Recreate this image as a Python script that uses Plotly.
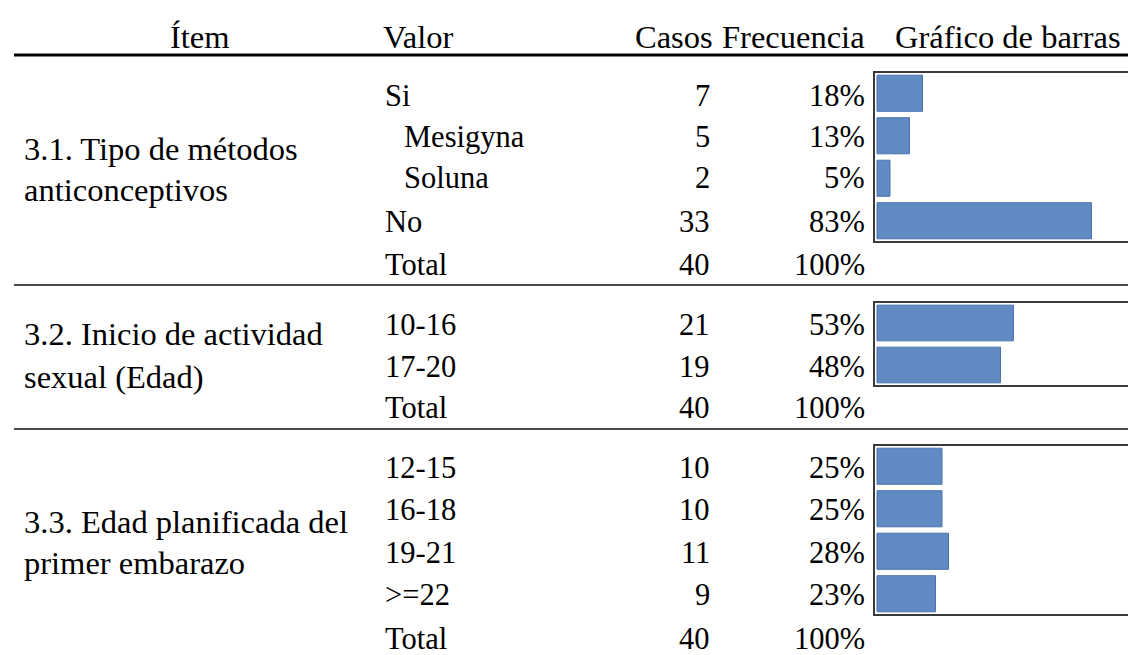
import plotly.graph_objects as go

# ---------------- data ----------------
headers = ["Ítem", "Valor", "Casos", "Frecuencia", "Gráfico de barras"]

item1_lines = ["3.1. Tipo de métodos", "anticonceptivos"]
item2_lines = ["3.2. Inicio de actividad", "sexual (Edad)"]
item3_lines = ["3.3. Edad planificada del", "primer embarazo"]

sec1_values = ["Si", "Mesigyna", "Soluna", "No"]
sec1_cases = [7, 5, 2, 33]
sec1_sub = ["Mesigyna", "Soluna"]          # indented sub-options of "Si"
sec1_total = 40

sec2_values = ["10-16", "17-20"]
sec2_cases = [21, 19]
sec2_total = 40

sec3_values = ["12-15", "16-18", "19-21", ">=22"]
sec3_cases = [10, 10, 11, 9]
sec3_total = 40

total_label = "Total"

# ---------------- layout constants (pixels) ----------------
W, H = 1128, 655
FONT = "Liberation Serif, Times New Roman, serif"
BODY = 30.5
HEAD = 32.5


def px(x):
    return x / W


def py(y):
    return 1 - y / H


def pct(n, tot):
    return f"{int(n * 100 / tot + 0.5)}%"


annotations = []


def txt(s, x, y, anchor="left", size=BODY):
    annotations.append(dict(text=s, x=px(x), y=py(y), xref="paper", yref="paper",
                            xanchor=anchor, yanchor="middle", showarrow=False,
                            font=dict(family=FONT, size=size, color="#000000")))


# header
txt(headers[0], 200, 37, "center", HEAD)
txt(headers[1], 381, 37, "left", HEAD)
txt(headers[2], 633, 37, "left", HEAD)
txt(headers[3], 867, 37, "right", HEAD)
txt(headers[4], 893, 37, "left", HEAD)

X_VAL, X_SUB, X_CAS, X_FRE, X_ITEM = 383, 402, 712, 867, 22

sections = [
    dict(item=item1_lines, item_y=(149, 190), values=sec1_values, cases=sec1_cases,
         total=sec1_total, rows=[96, 137, 178, 222], total_y=265, box=(72, 242)),
    dict(item=item2_lines, item_y=(334, 377), values=sec2_values, cases=sec2_cases,
         total=sec2_total, rows=[325, 367], total_y=408, box=(302, 386)),
    dict(item=item3_lines, item_y=(522, 563), values=sec3_values, cases=sec3_cases,
         total=sec3_total, rows=[468, 510, 553, 595], total_y=639, box=(445, 615)),
]

fig = go.Figure()
shapes = []
layout_axes = {}

BOX_L = 874
ZERO_X = 877
SCALE = 260.0  # pixels per 100%

for i, s in enumerate(sections):
    # item text
    txt(s["item"][0], X_ITEM, s["item_y"][0], "left", HEAD)
    txt(s["item"][1], X_ITEM, s["item_y"][1], "left", HEAD)
    # rows
    for v, c, y in zip(s["values"], s["cases"], s["rows"]):
        xv = X_SUB if (i == 0 and v in sec1_sub) else X_VAL
        txt(v, xv, y, "left")
        txt(str(c), X_CAS, y, "right")
        txt(pct(c, s["total"]), X_FRE, y, "right")
    txt(total_label, X_VAL, s["total_y"], "left")
    txt(str(s["total"]), X_CAS, s["total_y"], "right")
    txt(pct(s["total"], s["total"]), X_FRE, s["total_y"], "right")

    # bar chart
    n = i + 1
    xa = "x" if n == 1 else f"x{n}"
    ya = "y" if n == 1 else f"y{n}"
    fig.add_trace(go.Bar(
        x=[c / s["total"] for c in s["cases"]], y=s["values"], orientation="h",
        xaxis=xa, yaxis=ya,
        marker=dict(color="#5F8AC4", line=dict(color="#4A74AE", width=1)),
        hoverinfo="skip", showlegend=False,
    ))
    top, bot = s["box"]
    layout_axes[f"xaxis{'' if n == 1 else n}"] = dict(
        domain=[px(BOX_L), 1],
        range=[(BOX_L - ZERO_X) / SCALE, (W - ZERO_X) / SCALE],
        showgrid=False, zeroline=False, showticklabels=False, ticks="",
        anchor=ya, fixedrange=True)
    layout_axes[f"yaxis{'' if n == 1 else n}"] = dict(
        domain=[py(bot), py(top)], type="category",
        range=[len(s["values"]) - 0.5, -0.5],
        showgrid=False, zeroline=False, showticklabels=False, ticks="",
        anchor=xa, fixedrange=True)
    # box around bar area (right edge runs off the page)
    shapes.append(dict(type="rect", xref="paper", yref="paper",
                       x0=px(BOX_L), x1=1.02, y0=py(bot), y1=py(top),
                       line=dict(color="#3A3A3A", width=2), fillcolor="rgba(0,0,0,0)",
                       layer="above"))

# rules
shapes.append(dict(type="line", xref="paper", yref="paper", x0=px(14), x1=1,
                   y0=py(55), y1=py(55), line=dict(color="#000000", width=3)))
for yy in (285, 429):
    shapes.append(dict(type="line", xref="paper", yref="paper", x0=px(14), x1=1,
                       y0=py(yy), y1=py(yy), line=dict(color="#4A4A4A", width=2)))

fig.update_layout(
    width=W, height=H,
    margin=dict(l=0, r=0, t=0, b=0),
    paper_bgcolor="white", plot_bgcolor="white",
    bargap=0.15,
    annotations=annotations,
    shapes=shapes,
    **layout_axes,
)

fig.write_html("out.html", config={"displayModeBar": False},
               post_script="document.body.style.margin='0';document.body.style.overflow='hidden';")
